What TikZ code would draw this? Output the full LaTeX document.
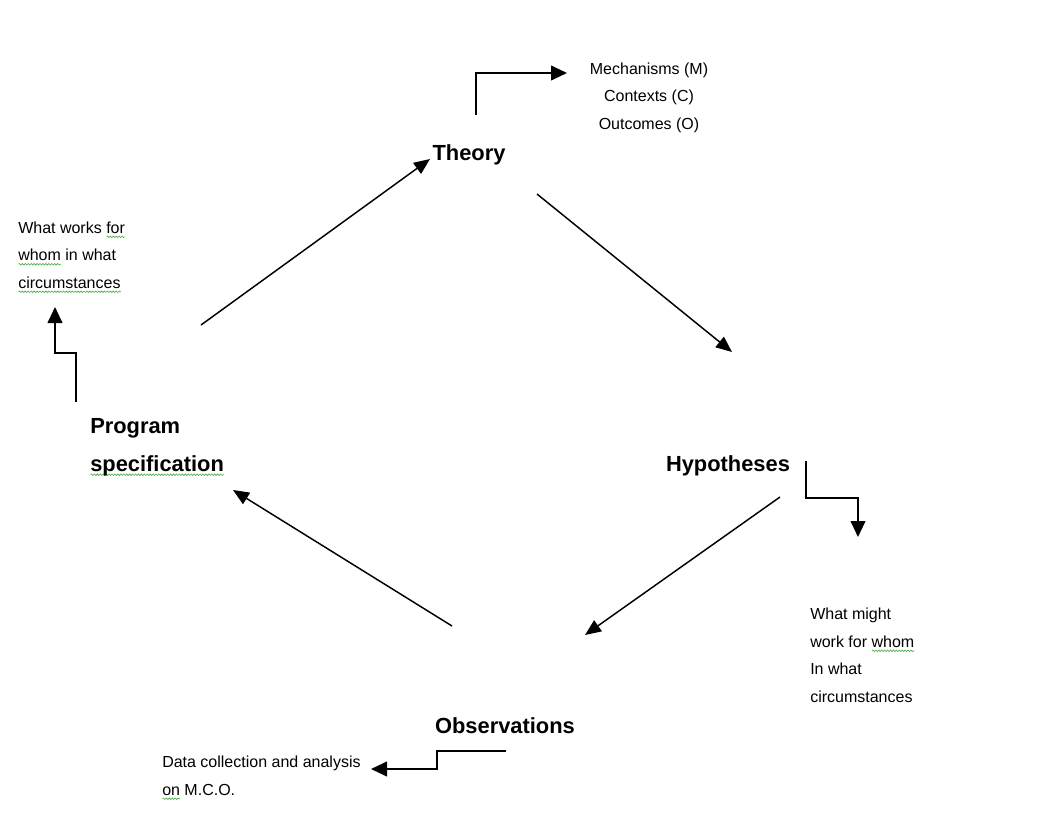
\documentclass[tikz,border=0pt]{standalone}
\usepackage{fontspec}
\setmainfont{Liberation Sans}
\usetikzlibrary{arrows.meta,decorations.pathmorphing}
\definecolor{squig}{RGB}{70,170,70}
\newcommand\sq[1]{\setbox0\hbox{#1}\rlap{\tikz[baseline=0pt,x=1pt,y=1pt]\draw[squig,line width=0.45pt,decorate,decoration={snake,amplitude=0.6pt,segment length=2.2pt}] (0pt,-2.8pt) -- (\the\wd0,-2.8pt);}\box0\relax}
\begin{document}
\begin{tikzpicture}[x=0.75pt,y=-0.75pt,
  big/.style={font=\fontsize{16.4}{28.5}\selectfont\bfseries, inner sep=0pt, align=left},
  small/.style={font=\fontsize{12}{20.6}\selectfont, inner sep=0pt, align=left},
  flow/.style={line width=1.1pt, -{Triangle[length=12pt,width=10pt]}},
  elbow/.style={line width=1.5pt, -{Triangle[length=12pt,width=11pt]}}]
\useasboundingbox (0,0) rectangle (1040,822);

% main labels (anchor = baseline of last line)
\node[big, anchor=base] (theory) at (469,160) {Theory};
\node[big, anchor=base] (hyp) at (728,471) {Hypotheses};
\node[big, anchor=base] (obs) at (505,733) {Observations};
\node[big, anchor=base west] (prog) at (90,471) {Program\\\sq{specification}};

% side texts
\node[small, align=center, anchor=base] (mco) at (649,129) {Mechanisms (M)\\Contexts (C)\\Outcomes (O)};
\node[small, anchor=base west] (wwf) at (18,288) {What works \sq{for}\\\sq{whom} in what\\\sq{circumstances}};
\node[small, anchor=base west] (wmw) at (810,702) {What might\\work for \sq{whom}\\In what\\circumstances};
\node[small, anchor=base west] (dca) at (162,795) {Data collection and analysis\\\sq{on} M.C.O.};

% cycle arrows
\coordinate (p1) at (201,325); \coordinate (t1) at (430,159);
\coordinate (t2) at (537,194); \coordinate (h1) at (732,352);
\coordinate (h2) at (780,497); \coordinate (o1) at (585,635);
\coordinate (o2) at (452,626); \coordinate (p2) at (233,490);
\draw[flow] (p1) -- (t1);
\draw[flow] (t2) -- (h1);
\draw[flow] (h2) -- (o1);
\draw[flow] (o2) -- (p2);

% elbow arrows
\coordinate (te) at (476,115); \coordinate (tt) at (567,73);
\draw[elbow] (te) |- (tt);
\coordinate (pe) at (76,402); \coordinate (pt) at (55,307);
\draw[elbow] (pe) -- ++(0,-49) -| (pt);
\coordinate (he) at (806,461); \coordinate (ht) at (858,537);
\draw[elbow] (he) -- ++(0,37) -| (ht);
\coordinate (oe) at (506,751); \coordinate (ot) at (371,769);
\draw[elbow] (oe) -- ++(-69,0) |- (ot);
\end{tikzpicture}
\end{document}
